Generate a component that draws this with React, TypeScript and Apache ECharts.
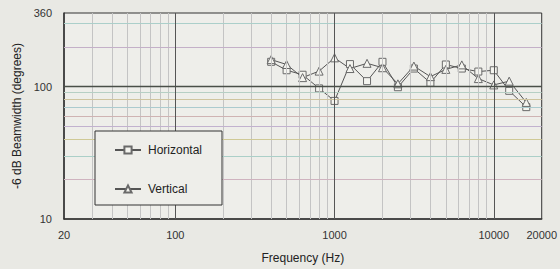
import React, { useEffect, useRef } from "react";
import * as echarts from "echarts";

const freqs = [400, 500, 630, 800, 1000, 1250, 1600, 2000, 2500, 3150, 4000, 5000, 6300, 8000, 10000, 12500, 16000];
const horizontal = [154, 133, 123, 97, 78, 148, 110, 154, 99, 137, 107, 147, 137, 130, 133, 93, 70];
const vertical = [160, 147, 117, 131, 165, 137, 150, 139, 105, 143, 119, 135, 146, 115, 103, 110, 76];

const xMinorGrid = [30, 40, 50, 60, 70, 80, 90, 200, 300, 400, 500, 600, 700, 800, 900, 2000, 3000, 4000, 5000, 6000, 7000, 8000, 9000];
const xMajorGrid = [100, 1000, 10000];
const yMinorGrid = [20, 30, 40, 50, 60, 70, 80, 90, 200, 300];
const yMajorGrid = [100];
const yMinorColors = ["#cfb3bf", "#abcfc8", "#cfc996", "#c2b2cf", "#cfb3b3", "#abcbcf", "#cfc49e", "#b6cfc4", "#c4b0c8", "#abcfca"];

export default function App() {
  const ref = useRef<HTMLDivElement>(null);
  useEffect(() => {
    document.body.style.margin = "0";
    const chart = echarts.init(ref.current!, undefined, { renderer: "svg" });
    const fmt = (v: number) => String(Math.round(v));
    const gridLines: any[] = [];
    xMinorGrid.forEach((v) => gridLines.push({ xAxis: v, lineStyle: { color: "#c4c4c4", width: 1, type: "solid" } }));
    yMinorGrid.forEach((v, i) => gridLines.push({ yAxis: v, lineStyle: { color: yMinorColors[i % yMinorColors.length], width: 1, type: "solid" } }));
    xMajorGrid.forEach((v) => gridLines.push({ xAxis: v, lineStyle: { color: "#555", width: 1, type: "solid" } }));
    yMajorGrid.forEach((v) => gridLines.push({ yAxis: v, lineStyle: { color: "#4a4f48", width: 1.3, type: "solid" } }));

    chart.setOption({
      animation: false,
      backgroundColor: "#e9e9e4",
      textStyle: { fontFamily: "Liberation Sans, Arial, sans-serif" },
      grid: {
        left: 64,
        right: 18,
        top: 13,
        bottom: 49,
        show: true,
        backgroundColor: "#eeeeea",
        borderColor: "#333",
        borderWidth: 1,
      },
      xAxis: {
        type: "log",
        logBase: 10,
        min: 20,
        max: 20000,
        name: "Frequency (Hz)",
        nameLocation: "middle",
        nameGap: 33,
        nameTextStyle: { fontSize: 12, color: "#222" },
        axisLine: { show: true, lineStyle: { color: "#333", width: 1.5 } },
        axisTick: { show: false },
        splitLine: { show: false },
        axisLabel: { formatter: fmt, fontSize: 11, color: "#333", margin: 10 },
      },
      yAxis: {
        type: "log",
        logBase: 10,
        min: 10,
        max: 360,
        name: "-6 dB Beamwidth (degrees)",
        nameLocation: "middle",
        nameGap: 40,
        nameTextStyle: { fontSize: 12, color: "#222" },
        axisLine: { show: true, lineStyle: { color: "#333", width: 1.5 } },
        axisTick: { show: false },
        splitLine: { show: false },
        axisLabel: { formatter: fmt, fontSize: 11, color: "#333", margin: 12 },
      },
      legend: {
        orient: "vertical",
        left: 109,
        top: 139,
        z: 20,
        itemWidth: 26,
        itemHeight: 9,
        itemGap: 27,
        textStyle: { fontSize: 12, color: "#222", padding: [0, 0, 0, 2] },
        data: ["Horizontal", "Vertical"],
      },
      graphic: [
        {
          type: "rect",
          z: 10,
          shape: { x: 95, y: 131, width: 127, height: 74 },
          style: { fill: "#eeeeea", stroke: "#333", lineWidth: 1 },
        },
      ],
      series: [
        {
          name: "grid",
          type: "line",
          data: [],
          silent: true,
          z: 1,
          markLine: {
            silent: true,
            symbol: "none",
            label: { show: false },
            animation: false,
            data: gridLines,
          },
        },
        {
          name: "Horizontal",
          type: "line",
          z: 3,
          data: freqs.map((f, i) => [f, horizontal[i]]),
          symbol: "rect",
          symbolSize: 7,
          lineStyle: { color: "#555", width: 1 },
          itemStyle: { color: "#f4f4ef", borderColor: "#6a6a6a", borderWidth: 1 },
        },
        {
          name: "Vertical",
          type: "line",
          z: 3,
          data: freqs.map((f, i) => [f, vertical[i]]),
          symbol: "triangle",
          symbolSize: 8,
          lineStyle: { color: "#555", width: 1 },
          itemStyle: { color: "#f4f4ef", borderColor: "#6a6a6a", borderWidth: 1 },
        },
      ],
    });
    return () => chart.dispose();
  }, []);
  return <div ref={ref} style={{ width: 560, height: 269 }} />;
}
